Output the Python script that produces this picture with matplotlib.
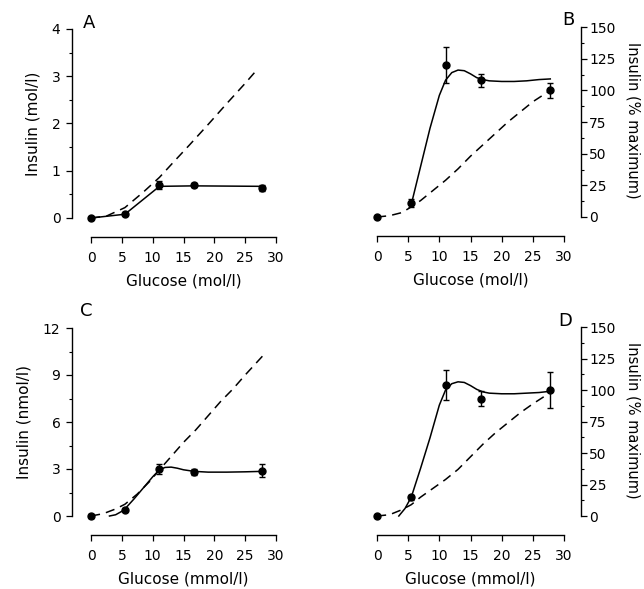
import matplotlib
matplotlib.use("Agg")
import matplotlib.pyplot as plt
from matplotlib.ticker import MultipleLocator

# Measured points (glucose in mmol/l)
glucose = [0, 5.5, 11.1, 16.7, 27.8]

# Panel A
a_y = [0.01, 0.09, 0.70, 0.70, 0.63]
a_err = [0.02, 0.03, 0.08, 0.05, 0.06]
a_fit_x = [0, 5.5, 11.1, 16.7, 27.8]
a_fit_y = [0, 0.08, 0.67, 0.68, 0.67]
a_model_x = [0, 2.5, 5.5, 8.5, 11.1, 13.5, 16, 19, 22, 25, 27]
a_model_y = [0, 0.04, 0.22, 0.55, 0.86, 1.2, 1.55, 1.98, 2.42, 2.85, 3.15]

# Panel B
b_y = [0, 11, 120, 108, 100]
b_err = [0, 3, 14, 5, 6]
b_fit_x = [5.5, 7, 8.5, 10, 11, 12, 13, 14, 15, 16, 17, 18, 20, 22, 24, 26, 27.8]
b_fit_y = [10, 40, 70, 96, 108, 114, 116, 115.5, 113, 110, 108.5, 107.5, 107, 107, 107.5, 108.5, 109]
b_model_x = [0, 2, 4, 5.5, 7, 9, 11, 13, 15, 17, 19, 21, 23, 25, 27.5]
b_model_y = [0, 1, 3.5, 8, 13, 21, 29, 38, 48, 57, 66, 75, 83, 91, 99]

# Panel C
c_y = [0, 0.4, 3.0, 2.8, 2.9]
c_err = [0.1, 0.1, 0.35, 0.2, 0.4]
c_fit_x = [3, 4, 5, 5.5, 7, 8.5, 10, 11.1, 12, 13, 14, 15, 16.7, 19, 22, 25, 27.8]
c_fit_y = [0, 0.08, 0.3, 0.45, 1.1, 1.8, 2.5, 2.95, 3.1, 3.12, 3.05, 2.95, 2.85, 2.8, 2.8, 2.82, 2.85]
c_model_x = [0, 2, 4, 5.5, 7.5, 9.5, 11.1, 13, 15, 17, 19, 21, 23, 25, 27.8]
c_model_y = [0, 0.15, 0.45, 0.75, 1.4, 2.2, 2.95, 3.8, 4.7, 5.5, 6.4, 7.3, 8.1, 9.0, 10.2]

# Panel D
d_y = [0, 15, 104, 93, 100]
d_err = [0, 2, 12, 6, 14]
d_fit_x = [3.5, 4.5, 5.5, 7, 8.5, 10, 11, 12, 13, 14, 15, 16, 17, 18, 20, 22, 24, 26, 27.8]
d_fit_y = [0, 6, 15, 38, 62, 88, 100, 105, 106.5, 106, 103.5, 100.5, 98.5, 97.5, 97, 97, 97.5, 98, 99]
d_model_x = [0, 2, 4, 5.5, 7, 9, 11, 13, 15, 17, 19, 21, 23, 25, 27.5]
d_model_y = [0, 1, 5, 9, 15, 22, 29, 37, 47, 57, 66, 74, 82, 89, 97]

plt.rcParams['font.family'] = 'DejaVu Sans'

fig = plt.figure(figsize=(6.44, 5.89), dpi=100)

W, H = 644.0, 589.0


def make_axes(x0, x1, y0, y1):
    # pixel coords of the data box
    return fig.add_axes([x0 / W, 1 - y0 / H, (x1 - x0) / W, (y0 - y1) / H])


def draw(ax, y, err, fx, fy, mx, my, ymax, ymajor, right=False):
    ax.plot(mx, my, color='black', lw=1.1, dashes=(6, 4), clip_on=False)
    ax.plot(fx, fy, color='black', lw=1.1, clip_on=False)
    ax.errorbar(glucose, y, yerr=err, fmt='o', color='black', ms=5,
                capsize=2.5, elinewidth=1.0, capthick=1.0, clip_on=False)
    ax.set_xlim(0, 30)
    ax.set_ylim(0, ymax)
    ax.xaxis.set_major_locator(MultipleLocator(5))
    ax.yaxis.set_major_locator(MultipleLocator(ymajor))
    ax.yaxis.set_minor_locator(MultipleLocator(ymajor / 2))
    ax.spines['top'].set_visible(False)
    ax.spines['bottom'].set_position(('outward', 14))
    if right:
        ax.spines['left'].set_visible(False)
        ax.spines['right'].set_position(('outward', 12))
        ax.yaxis.tick_right()
        ax.tick_params(axis='y', which='major', pad=2)
    else:
        ax.spines['right'].set_visible(False)
        ax.spines['left'].set_position(('outward', 14))
        ax.tick_params(axis='y', which='major', pad=4)
    ax.tick_params(axis='x', pad=6)
    ax.tick_params(which='major', length=4, width=0.9, labelsize=10)
    ax.tick_params(which='minor', length=2, width=0.8)
    for s in ax.spines.values():
        s.set_linewidth(1.0)
    ax.patch.set_visible(False)


axA = make_axes(91, 276, 218, 29)
draw(axA, a_y, a_err, a_fit_x, a_fit_y, a_model_x, a_model_y, 4, 1)
axA.set_xlabel('Glucose (mol/l)', fontsize=11, labelpad=6)
axA.set_ylabel('Insulin (mol/l)', fontsize=11, labelpad=8)

axB = make_axes(377, 564, 217, 27)
draw(axB, b_y, b_err, b_fit_x, b_fit_y, b_model_x, b_model_y, 150, 25, right=True)
axB.set_xlabel('Glucose (mol/l)', fontsize=11, labelpad=6)

axC = make_axes(91, 276, 516, 328)
draw(axC, c_y, c_err, c_fit_x, c_fit_y, c_model_x, c_model_y, 12, 3)
axC.set_xlabel('Glucose (mmol/l)', fontsize=11, labelpad=6)
axC.set_ylabel('Insulin (nmol/l)', fontsize=11, labelpad=8)

axD = make_axes(377, 564, 516, 327)
draw(axD, d_y, d_err, d_fit_x, d_fit_y, d_model_x, d_model_y, 150, 25, right=True)
axD.set_xlabel('Glucose (mmol/l)', fontsize=11, labelpad=6)

# right-hand labels sit right at the page edge
fig.text(633 / W, 1 - 120 / H, 'Insulin (% maximum)', rotation=270,
         ha='center', va='center', fontsize=10.5)
fig.text(633 / W, 1 - 420 / H, 'Insulin (% maximum)', rotation=270,
         ha='center', va='center', fontsize=10.5)

# panel letters
for lx, ly, lab in [(89, 23, 'A'), (568, 20, 'B'), (86, 311, 'C'), (565, 321, 'D')]:
    fig.text(lx / W, 1 - ly / H, lab, ha='center', va='center', fontsize=13)

fig.savefig('out.png', dpi=100)
